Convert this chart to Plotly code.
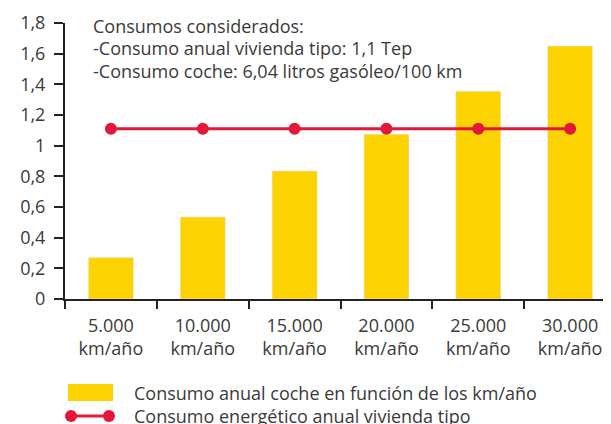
import plotly.graph_objects as go

categories = ["5.000<br>km/año", "10.000<br>km/año", "15.000<br>km/año",
              "20.000<br>km/año", "25.000<br>km/año", "30.000<br>km/año"]
consumo_coche = [0.27, 0.535, 0.835, 1.075, 1.355, 1.65]
consumo_vivienda = [1.11, 1.11, 1.11, 1.11, 1.11, 1.11]
y_ticks = [0, 0.2, 0.4, 0.6, 0.8, 1.0, 1.2, 1.4, 1.6, 1.8]
y_ticktext = ["0", "0,2", "0,4", "0,6", "0,8", "1", "1,2", "1,4", "1,6", "1,8"]
legend_names = ["Consumo anual coche en función de los km/año",
                "Consumo energético anual vivienda tipo"]
note_lines = ["Consumos considerados:",
              "-Consumo anual vivienda tipo: 1,1 Tep",
              "-Consumo coche: 6,04 litros gasóleo/100 km"]

YELLOW = "#FCD200"
RED = "#E2183A"
TXT = "#3a3a3a"
FONT = "Open Sans"
FS = 18

# page is rendered with an 8px body margin
OFF = 8
W, H = 611 - OFF, 424 - OFF
# plot area in page pixels
PL, PR, PT, PB = 65, 611, 23, 299
L, R, T, B = PL - OFF, W - (PR - OFF), PT - OFF, H - (PB - OFF)
pw, ph = PR - PL, PB - PT

def px(x):
    return (x - PL) / pw

def py(y):
    return (PB - y) / ph

fig = go.Figure()
fig.add_trace(go.Bar(x=categories, y=consumo_coche, marker_color=YELLOW,
                     width=0.49, name=legend_names[0], showlegend=False))
fig.add_trace(go.Scatter(x=categories, y=consumo_vivienda, mode="lines+markers",
                         line=dict(color=RED, width=3),
                         marker=dict(color=RED, size=12),
                         name=legend_names[1], showlegend=False))

shapes = []
annotations = []
for i, t in enumerate(note_lines):
    annotations.append(dict(x=px(91), y=py(26 + i * 22.5), xref="paper", yref="paper",
                            text=t, showarrow=False, xanchor="left", yanchor="middle",
                            font=dict(size=FS, color=TXT, family=FONT)))
# legend
shapes.append(dict(type="rect", xref="paper", yref="paper",
                   x0=px(68), x1=px(113), y0=py(384), y1=py(401),
                   fillcolor=YELLOW, line=dict(width=0)))
shapes.append(dict(type="line", xref="paper", yref="paper",
                   x0=px(71), x1=px(109), y0=py(416), y1=py(416),
                   line=dict(color=RED, width=3)))
for cx in (71, 109):
    shapes.append(dict(type="circle", xref="paper", yref="paper",
                       x0=px(cx - 6), x1=px(cx + 6), y0=py(416 - 6), y1=py(416 + 6),
                       fillcolor=RED, line=dict(width=0)))
for i, name in enumerate(legend_names):
    annotations.append(dict(x=px(132), y=py(393 + i * 22.5), xref="paper", yref="paper",
                            text=name, showarrow=False, xanchor="left", yanchor="middle",
                            font=dict(size=FS, color=TXT, family=FONT)))

fig.update_layout(
    width=W, height=H,
    margin=dict(l=L, r=R, t=T, b=B, pad=0),
    plot_bgcolor="white", paper_bgcolor="white",
    font=dict(family=FONT, size=FS, color=TXT),
    showlegend=False,
    shapes=shapes, annotations=annotations,
    xaxis=dict(type="category", range=[-0.5, 5.445], showline=True, linecolor="#222",
               linewidth=2, ticks="outside", tickson="boundaries", ticklen=8,
               tickwidth=1.5, tickcolor="#222", showgrid=False, zeroline=False,
               automargin=False, ticklabelstandoff=9,
               tickfont=dict(size=FS, color=TXT, family=FONT)),
    yaxis=dict(range=[0, 1.8], tickvals=y_ticks, ticktext=y_ticktext, showline=True,
               linecolor="#222", linewidth=2, ticks="outside", ticklen=9, tickwidth=1.5,
               tickcolor="#222", showgrid=False, zeroline=False, automargin=False,
               ticklabelstandoff=5,
               tickfont=dict(size=FS, color=TXT, family=FONT)),
)

fig.write_html("out.html")
